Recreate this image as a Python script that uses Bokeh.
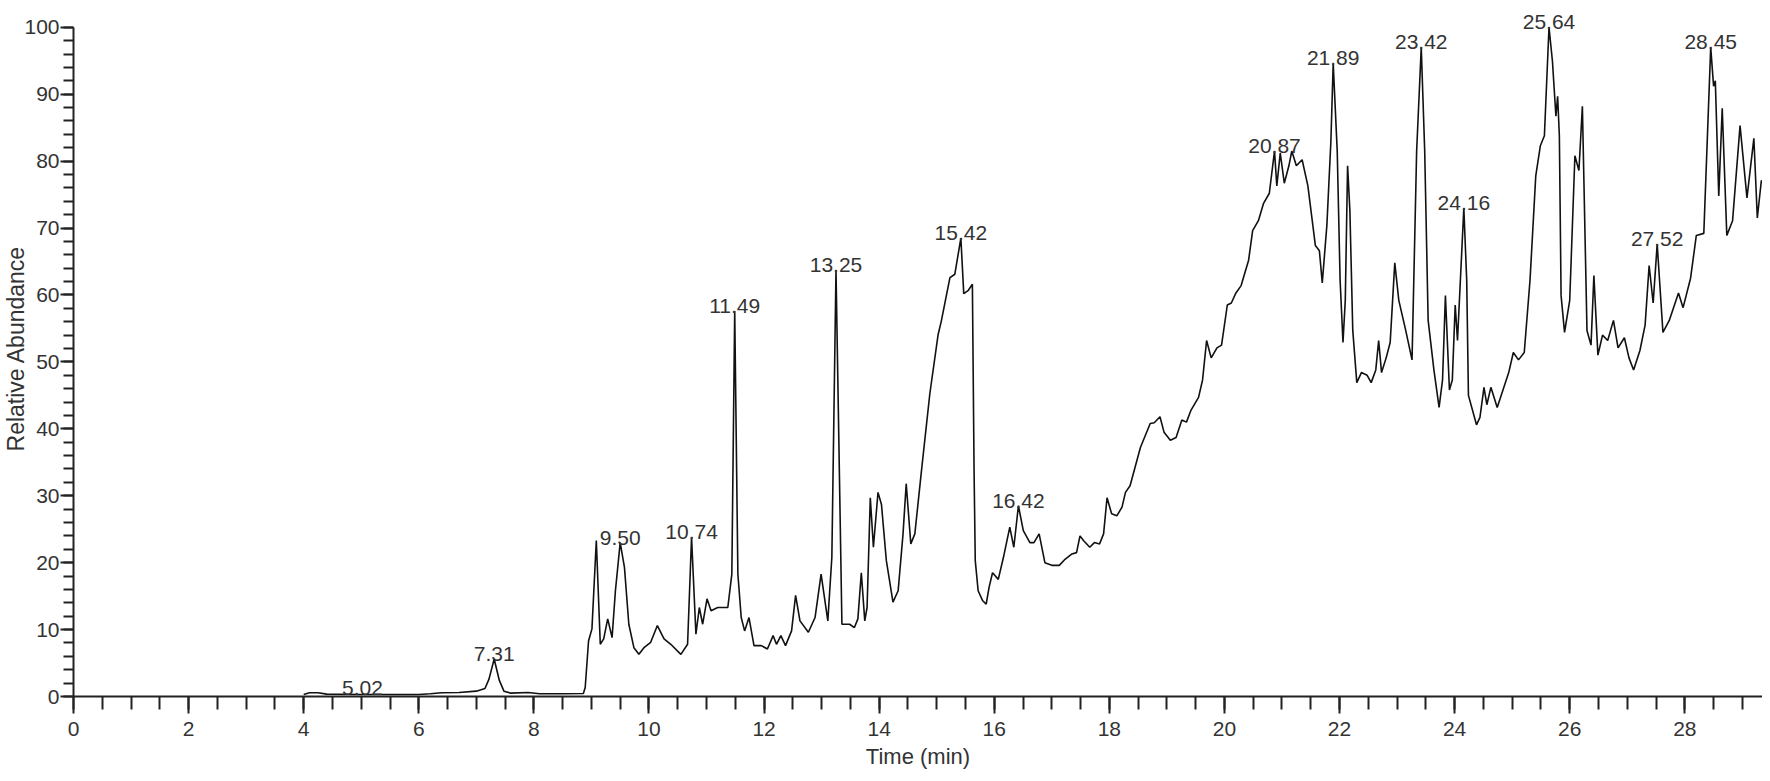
from bokeh.plotting import figure
from bokeh.models import SingleIntervalTicker, Range1d
from bokeh.core.properties import value
from bokeh.embed import file_html
from bokeh.resources import INLINE

time_min = [
    4.00, 4.10, 4.25, 4.40, 5.00, 6.00, 6.20, 6.40, 6.70, 7.00, 7.15, 7.22, 7.31, 7.40, 7.48,
    7.60, 7.90, 8.10, 8.50, 8.86,
    8.892, 8.95, 9.009, 9.085, 9.154, 9.213, 9.283, 9.359, 9.417, 9.50, 9.574, 9.65, 9.738,
    9.825, 9.913, 10.03, 10.146, 10.262, 10.379, 10.554, 10.671, 10.74, 10.816, 10.875, 10.933,
    11.009, 11.079, 11.195, 11.37, 11.44, 11.49, 11.545, 11.603, 11.662, 11.738, 11.825, 11.953,
    12.058, 12.157, 12.216, 12.292, 12.373, 12.478, 12.548, 12.624, 12.77, 12.886, 12.991, 13.108,
    13.178, 13.25, 13.353, 13.486, 13.57, 13.63, 13.69, 13.75, 13.79, 13.846, 13.90, 13.98, 14.04,
    14.125, 14.24, 14.33, 14.415, 14.47, 14.55, 14.62, 14.73, 14.88, 15.025, 15.08, 15.23, 15.315,
    15.42, 15.47, 15.55, 15.62, 15.65, 15.67, 15.72, 15.80, 15.86, 15.91, 15.97, 16.07, 16.16,
    16.27, 16.34, 16.42, 16.505, 16.62, 16.69, 16.78, 16.88, 17.00, 17.13, 17.23, 17.35, 17.43,
    17.49, 17.55, 17.66, 17.74, 17.83, 17.90, 17.96, 18.04, 18.13, 18.22, 18.28, 18.36, 18.54,
    18.71, 18.78, 18.88, 18.95, 19.06, 19.16, 19.26, 19.34, 19.42, 19.55, 19.62, 19.69, 19.77,
    19.87, 19.95, 20.05, 20.12, 20.20, 20.29, 20.42, 20.49, 20.59, 20.68, 20.78, 20.87, 20.91,
    20.97, 21.04, 21.12, 21.17, 21.25, 21.35, 21.45, 21.58, 21.65, 21.70, 21.78, 21.85, 21.89,
    21.96, 22.01, 22.06, 22.10, 22.14, 22.18, 22.23, 22.30, 22.38, 22.48, 22.55, 22.63, 22.68,
    22.73, 22.81, 22.88, 22.96, 23.03, 23.15, 23.26, 23.34, 23.42, 23.48, 23.54, 23.64, 23.73,
    23.79, 23.84, 23.91, 23.96, 24.01, 24.05, 24.16, 24.21, 24.24, 24.38, 24.44, 24.51, 24.56,
    24.63, 24.74, 24.84, 24.94, 25.02, 25.11, 25.21, 25.31, 25.41, 25.49, 25.56, 25.64, 25.70,
    25.76, 25.79, 25.82, 25.85, 25.91, 26.00, 26.09, 26.16, 26.22, 26.30, 26.37, 26.42, 26.49,
    26.57, 26.66, 26.76, 26.84, 26.95, 27.03, 27.11, 27.22, 27.31, 27.38, 27.45, 27.52, 27.62,
    27.73, 27.89, 27.97, 28.10, 28.20, 28.33, 28.45, 28.50, 28.53, 28.59, 28.65, 28.73, 28.83,
    28.96, 29.08, 29.20, 29.26, 29.33, 29.43, 29.48,
]

abundance = [
    0.3, 0.55, 0.55, 0.35, 0.3, 0.3, 0.4, 0.55, 0.6, 0.8, 1.2, 2.6, 5.6, 2.4, 0.8,
    0.5, 0.6, 0.4, 0.4, 0.45,
    1.35, 8.3, 10.1, 23.3, 7.8, 8.6, 11.6, 8.8, 15.8, 23.0, 19.3, 10.8, 7.3,
    6.3, 7.3, 8.1, 10.6, 8.6, 7.8, 6.3, 7.8, 23.8, 9.3, 13.3, 10.8,
    14.6, 12.8, 13.3, 13.3, 18.3, 57.6, 18.3, 11.8, 9.8, 11.8, 7.6, 7.6,
    7.1, 9.1, 7.8, 9.1, 7.6, 9.8, 15.1, 11.3, 9.6, 11.8, 18.3, 11.3,
    20.8, 63.7, 10.8, 10.8, 10.3, 11.6, 18.5, 11.3, 13.3, 29.7, 22.3, 30.5, 28.7,
    20.3, 14.1, 15.8, 24.3, 31.8, 22.8, 24.3, 33.3, 45.2, 54.1, 56.1, 62.6, 63.1,
    68.5, 60.2, 60.7, 61.6, 33.3, 20.3, 15.8, 14.3, 13.8, 16.3, 18.5, 17.5, 20.8,
    25.3, 22.3, 28.5, 24.8, 23.0, 23.0, 24.3, 20.0, 19.6, 19.6, 20.5, 21.3, 21.5,
    24.0, 23.3, 22.3, 23.0, 22.8, 24.3, 29.7, 27.3, 27.0, 28.3, 30.5, 31.5, 37.2,
    40.8, 40.9, 41.8, 39.5, 38.3, 38.7, 41.3, 41.0, 42.8, 44.7, 47.3, 53.2, 50.6,
    52.1, 52.5, 58.5, 58.8, 60.3, 61.4, 65.2, 69.6, 71.1, 73.7, 75.2, 81.5, 76.3,
    81.2, 76.7, 79.3, 81.5, 79.3, 80.2, 76.3, 67.4, 66.6, 61.8, 70.4, 83.0, 94.6,
    81.5, 62.2, 52.9, 59.2, 79.3, 72.6, 54.7, 46.9, 48.4, 48.0, 46.9, 48.8, 53.2,
    48.4, 50.6, 52.9, 64.8, 59.2, 54.7, 50.3, 81.5, 97.0, 81.5, 56.2, 48.8, 43.2,
    47.3, 59.9, 45.8, 47.3, 58.5, 53.2, 73.0, 62.2, 45.0, 40.6, 41.7, 46.2, 43.6,
    46.2, 43.2, 45.8, 48.4, 51.4, 50.3, 51.4, 62.2, 77.8, 82.3, 83.8, 100.0, 94.9,
    86.7, 89.7, 83.8, 59.9, 54.4, 59.2, 80.8, 78.6, 88.2, 54.7, 52.5, 62.9, 51.0,
    54.0, 53.2, 56.2, 52.1, 53.6, 50.6, 48.8, 51.7, 55.5, 64.4, 58.8, 67.6, 54.4,
    56.2, 60.3, 58.1, 62.5, 68.9, 69.2, 97.0, 91.2, 92.0, 74.8, 87.9, 68.9, 71.1,
    85.3, 74.5, 83.4, 71.5, 77.1, 75.9, 76.5,
]

peak_labels = ["5.02", "7.31", "9.50", "10.74", "11.49", "13.25", "15.42", "16.42",
               "20.87", "21.89", "23.42", "24.16", "25.64", "27.52", "28.45"]
peak_times = [5.02, 7.31, 9.50, 10.74, 11.49, 13.25, 15.42, 16.42,
              20.87, 21.89, 23.42, 24.16, 25.64, 27.52, 28.45]
peak_values = [0.5, 5.6, 23.0, 23.8, 57.6, 63.7, 68.5, 28.5,
               81.5, 94.6, 97.0, 73.0, 100.0, 67.6, 97.0]

x_label = "Time (min)"
y_label = "Relative Abundance"

FONT = "Liberation Sans"
INK = "#222222"
TXT = "#333333"

p = figure(width=1762, height=773, output_backend="svg", toolbar_location=None,
           x_range=Range1d(0, 29.35), y_range=Range1d(0, 104.0),
           min_border_left=73, min_border_right=0, min_border_top=0, min_border_bottom=77,
           background_fill_color="white", border_fill_color="white")
p.outline_line_color = None
p.xgrid.visible = False
p.ygrid.visible = False

p.line(time_min, abundance, line_color="#111111", line_width=1.6)

label_y = [v + 0.75 for v in peak_values]
p.text(x=peak_times, y=label_y, text=peak_labels,
       text_font=value(FONT), text_font_size="21px", text_color=TXT,
       text_align="center", text_baseline="alphabetic")

for ax in (p.xaxis[0], p.yaxis[0]):
    ax.axis_line_color = INK
    ax.axis_line_width = 2
    ax.major_tick_line_color = INK
    ax.minor_tick_line_color = INK
    ax.major_tick_line_width = 2
    ax.minor_tick_line_width = 2
    ax.major_tick_in = 0
    ax.minor_tick_in = 0
    ax.major_label_text_font = FONT
    ax.major_label_text_font_size = "21px"
    ax.major_label_text_color = TXT
    ax.axis_label_text_font = FONT
    ax.axis_label_text_font_style = "normal"
    ax.axis_label_text_color = TXT

xa = p.xaxis[0]
xa.ticker = SingleIntervalTicker(interval=2, num_minor_ticks=4)
xa.bounds = (0, 29.35)
xa.major_tick_out = 17
xa.minor_tick_out = 13
xa.major_label_standoff = 8
xa.axis_label = x_label
xa.axis_label_text_font_size = "22px"
xa.axis_label_standoff = 5

ya = p.yaxis[0]
ya.ticker = SingleIntervalTicker(interval=10, num_minor_ticks=5)
ya.bounds = (0, 100)
ya.major_tick_out = 13
ya.minor_tick_out = 10
ya.major_label_standoff = 1
ya.axis_label = y_label
ya.axis_label_text_font_size = "23px"
ya.axis_label_standoff = -8

open("out.html", "w").write(file_html(p, INLINE))
